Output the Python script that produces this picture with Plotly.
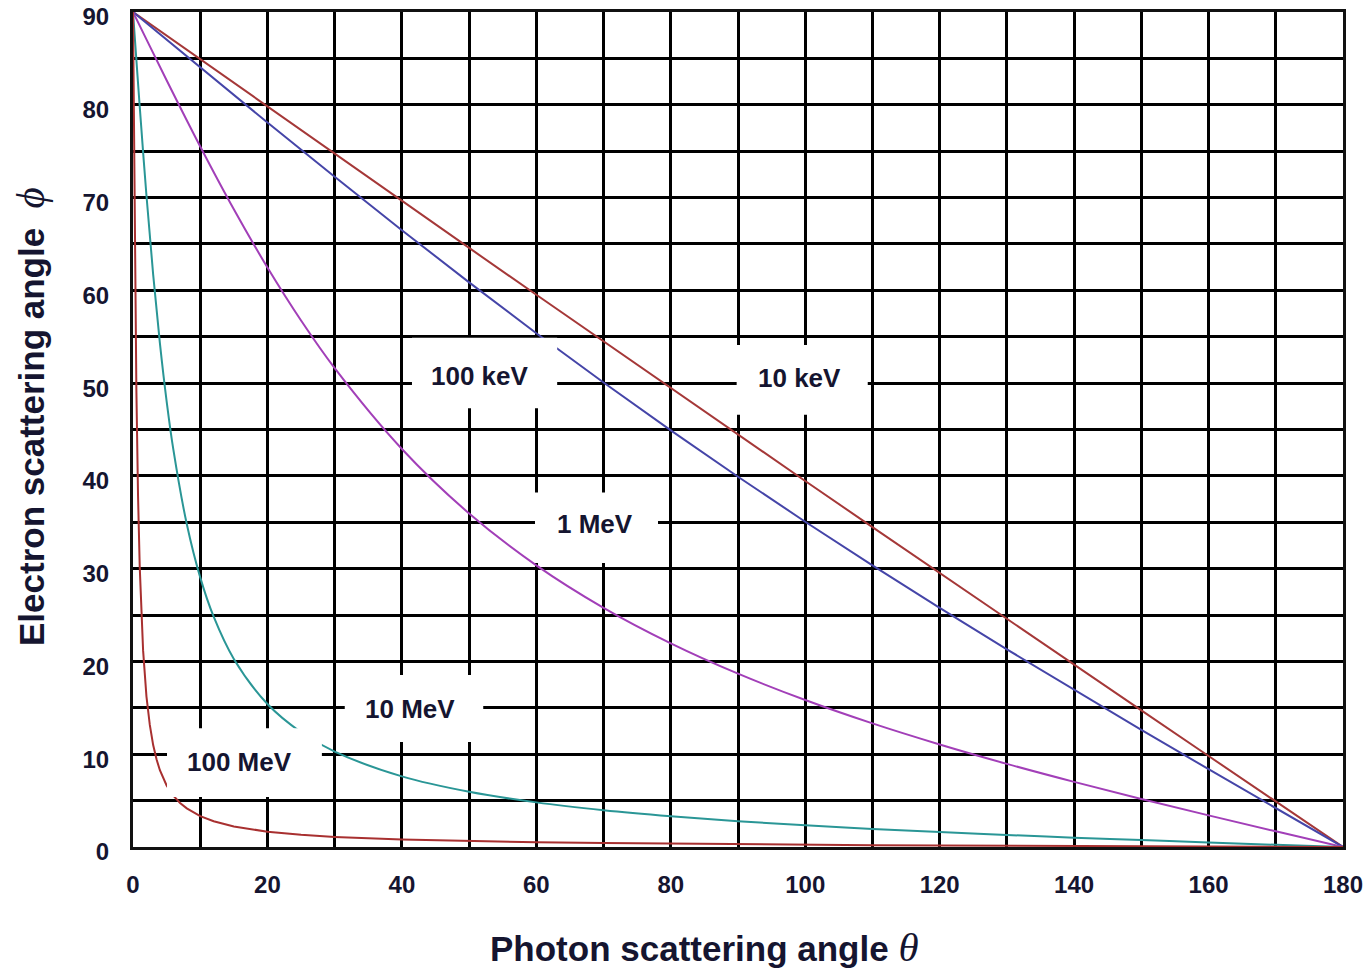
import plotly.graph_objects as go

# ---------------- data ----------------
theta_10keV = [0, 10, 20, 30, 40, 50, 60, 70, 80, 90, 100, 110, 120, 130, 140, 150, 160, 170, 180]
phi_10keV = [90, 84.90, 79.81, 74.72, 69.64, 64.57, 59.52, 54.48, 49.45, 44.44, 39.45, 34.48,
             29.52, 24.57, 19.64, 14.72, 9.81, 4.90, 0]

theta_100keV = [0, 10, 20, 30, 40, 50, 60, 70, 80, 90, 100, 110, 120, 130, 140, 150, 160, 170, 180]
phi_100keV = [90, 84.03, 78.09, 72.24, 66.48, 60.86, 55.38, 50.06, 44.90, 39.91, 35.06, 30.36,
              25.78, 21.30, 16.93, 12.63, 8.39, 4.18, 0]

theta_1MeV = [0, 2, 5, 10, 15, 20, 25, 30, 40, 50, 60, 70, 80, 90, 100, 110, 120, 130, 140,
              150, 160, 170, 180]
phi_1MeV = [90, 87.05, 82.64, 75.50, 68.73, 62.46, 56.75, 51.61, 42.90, 35.95, 30.36, 25.78,
            21.95, 18.68, 15.84, 13.32, 11.05, 8.96, 7.02, 5.18, 3.41, 1.69, 0]

theta_10MeV = [0, 0.5, 1, 2, 3, 4, 5, 6, 8, 10, 12, 15, 20, 25, 30, 40, 50, 60, 70, 80, 90,
               100, 110, 120, 130, 140, 150, 160, 170, 180]
phi_10MeV = [90, 84.87, 79.82, 70.25, 61.69, 54.31, 48.07, 42.85, 34.81, 29.06, 24.82, 20.27,
             15.41, 12.37, 10.28, 7.61, 5.95, 4.81, 3.97, 3.32, 2.78, 2.34, 1.95, 1.61, 1.30,
             1.01, 0.75, 0.49, 0.24, 0]

theta_100MeV = [0, 0.1, 0.2, 0.3, 0.5, 0.75, 1, 1.5, 2, 2.5, 3, 3.5, 4, 5, 6, 7, 8, 10, 12, 15,
                20, 25, 30, 40, 50, 60, 70, 80, 90, 100, 110, 120, 130, 140, 150, 160, 170, 180]
phi_100MeV = [90, 80.26, 71.05, 62.76, 49.37, 37.84, 30.22, 21.22, 16.24, 13.16, 10.99, 9.45,
              8.28, 6.64, 5.54, 4.75, 4.16, 3.33, 2.77, 2.21, 1.65, 1.31, 1.09, 0.80, 0.62,
              0.50, 0.42, 0.35, 0.29, 0.24, 0.20, 0.17, 0.14, 0.11, 0.08, 0.05, 0.03, 0]

series_names = ["10 keV", "100 keV", "1 MeV", "10 MeV", "100 MeV"]
series_colors = ["#a53838", "#4545a8", "#a23fb8", "#2a9696", "#a83030"]

# label boxes (data coords): text x, text y, box x0, x1, y0, y1
label_text_x = [99.2, 51.6, 68.7, 41.2, 15.9]
label_text_y = [50.55, 50.8, 34.8, 14.87, 9.16]
box_x0 = [89.8, 41.5, 59.8, 31.5, 5.06]
box_x1 = [109.3, 63.1, 78.1, 52.1, 28.1]
box_y0 = [46.6, 47.3, 30.6, 11.32, 5.4]
box_y1 = [54.1, 54.9, 38.2, 18.54, 12.8]

x_ticks = list(range(0, 181, 20))
y_ticks = list(range(0, 91, 10))

# ---------------- figure ----------------
fig = go.Figure()
thetas = [theta_10keV, theta_100keV, theta_1MeV, theta_10MeV, theta_100MeV]
phis = [phi_10keV, phi_100keV, phi_1MeV, phi_10MeV, phi_100MeV]
shapes_line = ["linear", "linear", "spline", "spline", "linear"]
for name, th, ph, col, shp in zip(series_names, thetas, phis, series_colors, shapes_line):
    fig.add_trace(go.Scatter(x=th, y=ph, mode="lines", name=name,
                             line=dict(color=col, width=2, shape=shp),
                             hoverinfo="skip"))

txt_color = "#151530"
for i, name in enumerate(series_names):
    fig.add_shape(type="rect", xref="x", yref="y", x0=box_x0[i], x1=box_x1[i],
                  y0=box_y0[i], y1=box_y1[i], fillcolor="white",
                  line=dict(width=0), layer="above")
    fig.add_annotation(x=label_text_x[i], y=label_text_y[i], xref="x", yref="y",
                       text="<b>%s</b>" % name, showarrow=False,
                       font=dict(family="Liberation Sans, Arial", size=26, color=txt_color))

# axis titles
fig.add_annotation(xref="paper", yref="paper", x=0.472, y=-0.1198, xanchor="center",
                   yanchor="middle", showarrow=False,
                   text="<b>Photon scattering angle</b> "
                        "<span style='font-family:Liberation Serif;font-size:41px;font-weight:normal'><i>θ</i></span>",
                   font=dict(family="Liberation Sans, Arial", size=35, color=txt_color))
fig.add_annotation(xref="paper", yref="paper", x=-0.0851, y=0.515, xanchor="center",
                   yanchor="middle", showarrow=False, textangle=-90,
                   text="<b>Electron scattering angle</b>  "
                        "<span style='font-family:Liberation Serif;font-size:41px;font-weight:normal'><i>ϕ</i></span>",
                   font=dict(family="Liberation Sans, Arial", size=35, color=txt_color))

fig.update_layout(
    width=1370, height=970,
    margin=dict(l=133, r=27, t=12, b=123, autoexpand=False),
    paper_bgcolor="white", plot_bgcolor="white",
    showlegend=False, hovermode=False,
    font=dict(family="Liberation Sans, Arial", color=txt_color),
)
fig.update_xaxes(range=[0, 180], tickvals=x_ticks, ticktext=["<b>%d</b>" % v for v in x_ticks],
                 showgrid=True, gridcolor="black", gridwidth=2.5, automargin=False,
                 ticklabeloverflow="allow",
                 minor=dict(dtick=10, tick0=0, showgrid=True, gridcolor="black", gridwidth=2.5),
                 showline=True, linecolor="#111111", linewidth=3, mirror=True,
                 zeroline=False, ticks="", ticklabelstandoff=14,
                 tickfont=dict(size=24, color=txt_color, family="Liberation Sans, Arial"))
fig.update_yaxes(range=[0, 90], tickvals=y_ticks, ticktext=["<b>%d</b>" % v for v in y_ticks],
                 showgrid=True, gridcolor="black", gridwidth=2.5, automargin=False,
                 ticklabeloverflow="allow", ticklabelshift=5,
                 minor=dict(dtick=5, tick0=0, showgrid=True, gridcolor="black", gridwidth=2.5),
                 showline=True, linecolor="#111111", linewidth=3, mirror=True,
                 zeroline=False, ticks="", ticklabelstandoff=16,
                 tickfont=dict(size=24, color=txt_color, family="Liberation Sans, Arial"))

fig.write_html("out.html")
